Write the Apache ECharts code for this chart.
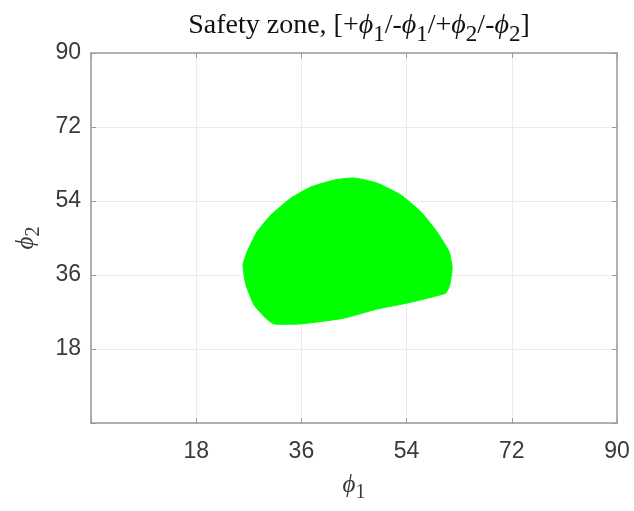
<!DOCTYPE html>
<html>
<head>
<meta charset="utf-8">
<script src="https://cdn.jsdelivr.net/npm/echarts@6/dist/echarts.min.js"></script>
<style>
  html, body { margin: 0; padding: 0; background: #ffffff; }
  #chart { width: 634px; height: 511px; }
</style>
</head>
<body>
<div id="chart"></div>
<script>
// Axis ranges and ticks (degrees)
const axisMin = 0;
const axisMax = 90;
const tickStep = 18;

// Boundary of the safety zone, traced clockwise: phi1 values and phi2 values
const zonePhi1 = [31.3, 29.9, 27.9, 26.5, 26.0, 26.7, 28.4, 30.8, 34.2, 37.6, 41.6, 45.0,
                  48.9, 53.0, 56.5, 59.2, 61.3, 61.8, 61.4, 60.7, 54.8, 48.9, 43.3, 35.9];
const zonePhi2 = [24.1, 25.5, 28.7, 33.6, 38.4, 41.6, 46.5, 50.6, 54.7, 57.4, 59.1, 59.6,
                  58.4, 55.5, 51.3, 46.5, 41.6, 37.7, 33.6, 31.6, 29.4, 27.7, 25.5, 24.1];

const zonePoints = zonePhi1.map((p1, i) => [p1, zonePhi2[i]]);

const chart = echarts.init(document.getElementById('chart'), null, { renderer: 'canvas' });

const serif = 'Liberation Serif, Times New Roman, serif';
const tickFont = { fontFamily: 'Liberation Sans, Arial, sans-serif', fontSize: 23, color: '#3a3a3a' };
const frameLine = { show: true, onZero: false, lineStyle: { color: '#9a9a9a', width: 1.5 } };
const innerTick = { show: true, inside: true, length: 5, lineStyle: { color: '#9a9a9a', width: 1 } };

function baseAxis(extra) {
  return Object.assign({
    type: 'value',
    min: axisMin,
    max: axisMax,
    interval: tickStep,
    axisLine: frameLine,
    axisTick: innerTick
  }, extra);
}

const nameRich = {
  i: { fontFamily: serif, fontStyle: 'italic', fontSize: 25, color: '#3a3a3a' },
  s: { fontFamily: serif, fontSize: 20, color: '#3a3a3a', padding: [16, 0, 0, 0] }
};

chart.setOption({
  animation: false,
  title: {
    text: 'Safety zone, [+{i|ϕ}{s|1}/-{i|ϕ}{s|1}/+{i|ϕ}{s|2}/-{i|ϕ}{s|2}]',
    left: 354,
    textAlign: 'center',
    top: 0,
    textStyle: {
      fontFamily: serif,
      fontSize: 28,
      fontWeight: 'normal',
      color: '#111111',
      rich: {
        i: { fontFamily: serif, fontStyle: 'italic', fontSize: 28, color: '#111111' },
        s: { fontFamily: serif, fontSize: 23, color: '#111111', padding: [18, 0, 0, 0] }
      }
    }
  },
  grid: { left: 91, top: 53, right: 17, bottom: 88, containLabel: false },
  xAxis: [
    baseAxis({
      position: 'bottom',
      name: '{i|ϕ}{s|1}',
      nameLocation: 'middle',
      nameGap: 44,
      nameTextStyle: { rich: nameRich },
      axisLabel: Object.assign({ margin: 17, formatter: v => (v === 0 ? '' : String(v)) }, tickFont),
      splitLine: { show: true, lineStyle: { color: '#ebebeb', width: 1 } }
    }),
    baseAxis({
      position: 'top',
      axisLabel: { show: false },
      splitLine: { show: false }
    })
  ],
  yAxis: [
    baseAxis({
      position: 'left',
      name: '{i|ϕ}{s|2}',
      nameLocation: 'middle',
      nameGap: 47,
      nameRotate: 90,
      nameTextStyle: { rich: nameRich },
      axisLabel: Object.assign({ margin: 10, formatter: v => (v === 0 ? '' : String(v)) }, tickFont),
      splitLine: { show: true, lineStyle: { color: '#ebebeb', width: 1 } }
    }),
    baseAxis({
      position: 'right',
      axisLabel: { show: false },
      splitLine: { show: false }
    })
  ],
  series: [{
    type: 'custom',
    xAxisIndex: 0,
    yAxisIndex: 0,
    coordinateSystem: 'cartesian2d',
    data: [0],
    renderItem: function (params, api) {
      const pts = zonePoints.map(p => api.coord(p));
      return {
        type: 'polygon',
        shape: { points: pts, smooth: 0.15 },
        style: { fill: '#00ff00', stroke: '#00ff00', lineWidth: 1 }
      };
    },
    silent: true,
    z: 3
  }]
});
</script>
</body>
</html>
